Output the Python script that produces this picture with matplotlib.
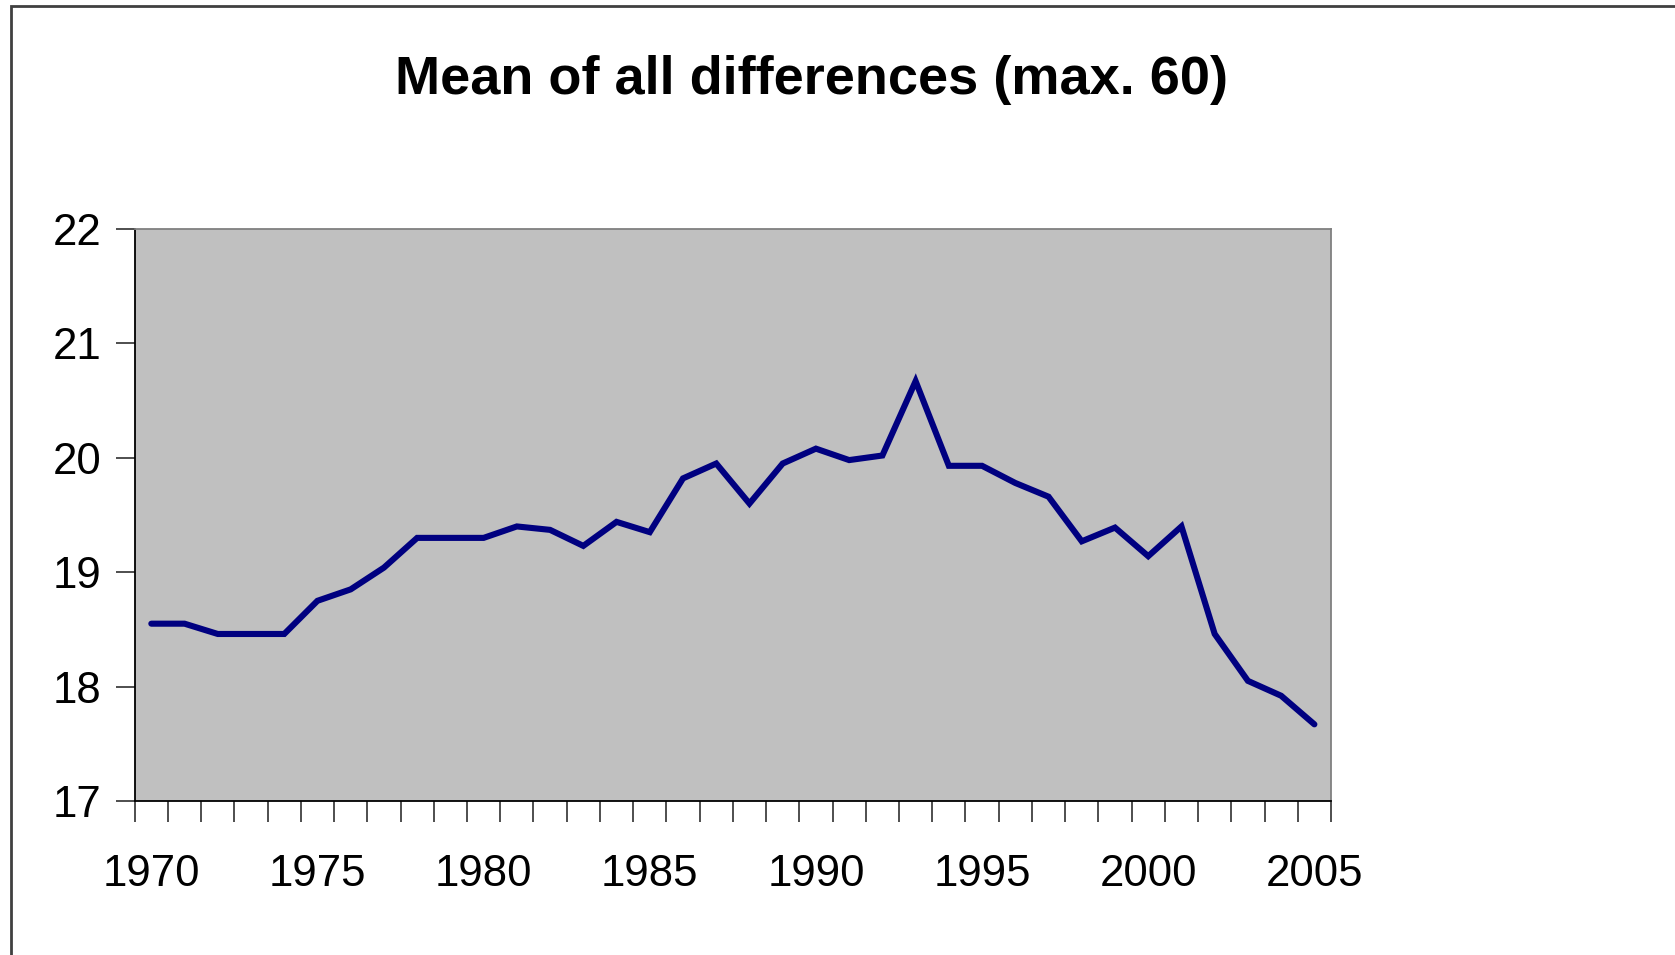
import matplotlib
matplotlib.use("Agg")
import matplotlib.pyplot as plt
from matplotlib.patches import Rectangle
from matplotlib.ticker import FixedLocator

years = list(range(1970, 2006))
values = [18.55, 18.55, 18.46, 18.46, 18.46, 18.75, 18.85, 19.04, 19.30, 19.30,
          19.30, 19.40, 19.37, 19.23, 19.44, 19.35, 19.82, 19.95, 19.60, 19.95,
          20.08, 19.98, 20.02, 20.67, 19.93, 19.93, 19.78, 19.66, 19.27, 19.39,
          19.14, 19.40, 18.46, 18.05, 17.92, 17.67]
xtick_labels = [1970, 1975, 1980, 1985, 1990, 1995, 2000, 2005]
yticks = [17, 18, 19, 20, 21, 22]
title = "Mean of all differences (max. 60)"

plt.rcParams['font.family'] = ['Liberation Sans', 'DejaVu Sans']

W, H = 1675, 955
fig = plt.figure(figsize=(W / 100, H / 100), dpi=100)
fig.patch.set_facecolor('white')

# outer chart border (extends beyond right/bottom edges)
fig.patches.append(Rectangle((11 / W, -0.1), 1.2, (H - 6) / H + 0.1,
                             transform=fig.transFigure, fill=False,
                             edgecolor='#404040', linewidth=2))

left, right = 134.7 / W, 1331 / W
bottom, top = 1 - 801 / H, 1 - 229 / H
ax = fig.add_axes([left, bottom, right - left, top - bottom])
ax.set_facecolor('#C0C0C0')

ax.plot(years, values, color='#000080', linewidth=4.4, solid_joinstyle='miter',
        solid_capstyle='round', zorder=3)

ax.set_xlim(years[0] - 0.5, years[-1] + 0.5)
ax.set_ylim(min(yticks), max(yticks))

ax.set_yticks(yticks)
ax.set_yticklabels([str(v) for v in yticks])
ax.set_xticks(xtick_labels)
ax.set_xticklabels([str(v) for v in xtick_labels])
ax.xaxis.set_minor_locator(FixedLocator([y - 0.5 for y in years] + [years[-1] + 0.5]))

ax.tick_params(axis='x', which='major', length=0, pad=38, labelsize=31.5)
ax.tick_params(axis='x', which='minor', length=15, width=1.3, color='#404040', direction='out')
ax.tick_params(axis='y', which='major', length=14, width=1.3, color='#404040',
               direction='out', pad=10, labelsize=31.5)

for s in ['top', 'right']:
    ax.spines[s].set_color('#808080')
    ax.spines[s].set_linewidth(1.3)
for s in ['left', 'bottom']:
    ax.spines[s].set_color('#000000')
    ax.spines[s].set_linewidth(1.3)

fig.text(812 / W, 1 - 80 / H, title, ha='center', va='center',
         fontsize=39, fontweight='bold', color='black')

fig.savefig('out.png', dpi=100, facecolor='white')
